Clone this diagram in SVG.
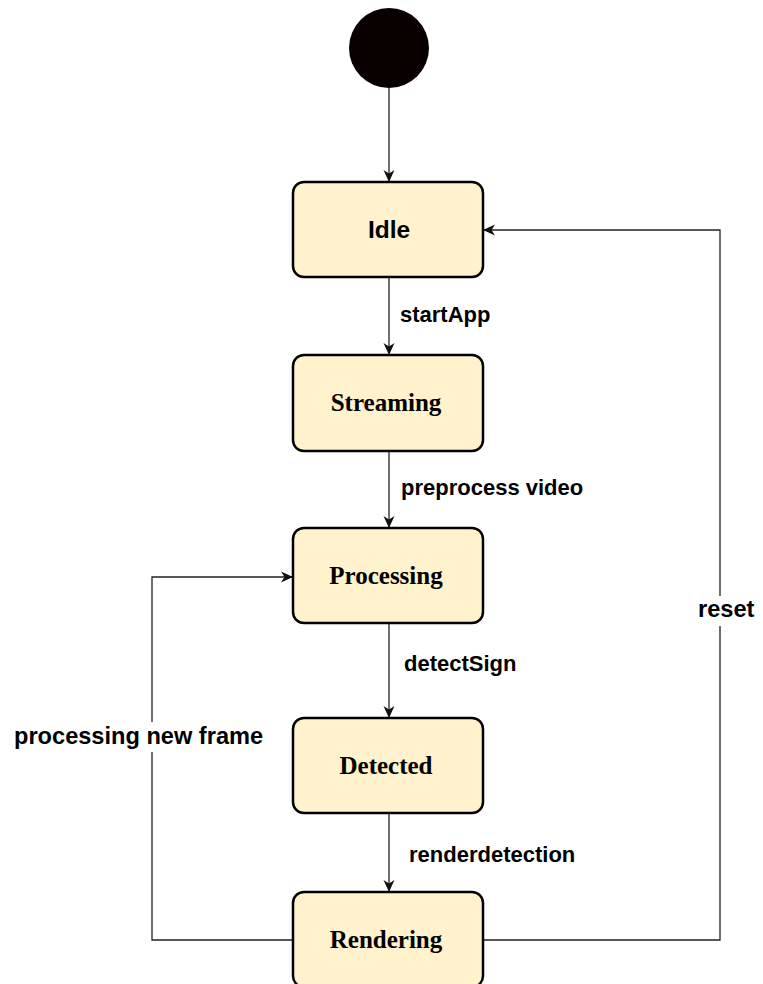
<svg xmlns="http://www.w3.org/2000/svg" width="763" height="984" viewBox="0 0 763 984">
  <style>
    .state { fill: #fff2cc; stroke: #000; stroke-width: 2.5; }
    .name-serif { font-family: "Liberation Serif", "Times New Roman", serif; font-weight: bold; font-size: 25px; fill: #000; text-anchor: middle; }
    .name-sans { font-family: "Liberation Sans", Arial, sans-serif; font-weight: bold; font-size: 24.5px; fill: #000; text-anchor: middle; }
    .edge { fill: none; stroke: #222; stroke-width: 1.3; }
    .label { font-family: "Liberation Sans", Arial, sans-serif; font-weight: bold; font-size: 22px; fill: #000; }
    .label-lg { font-family: "Liberation Sans", Arial, sans-serif; font-weight: bold; font-size: 23.6px; fill: #000; }
  </style>
  <defs>
    <marker id="arrow" viewBox="0 0 12 12" refX="12" refY="6" markerWidth="12" markerHeight="12" markerUnits="userSpaceOnUse" orient="auto">
      <path d="M0,0.5 L12,6 L0,11.5 L3.5,6 z" fill="#111"/>
    </marker>
  </defs>

  <rect width="763" height="984" fill="#fff"/>

  <!-- connectors -->
  <g id="connectors">
    <path class="edge" d="M389,88 L389,182" marker-end="url(#arrow)"/>
    <path class="edge" d="M389,277 L389,355" marker-end="url(#arrow)"/>
    <path class="edge" d="M389,451 L389,528" marker-end="url(#arrow)"/>
    <path class="edge" d="M389,623 L389,718" marker-end="url(#arrow)"/>
    <path class="edge" d="M389,813 L389,892" marker-end="url(#arrow)"/>
    <!-- loop back to Processing -->
    <path class="edge" d="M293,940 L152,940 L152,577 L293,577" marker-end="url(#arrow)"/>
    <!-- reset back to Idle -->
    <path class="edge" d="M483,940 L720,940 L720,230 L483,230" marker-end="url(#arrow)"/>

    <!-- transition labels -->
    <text class="label" x="400" y="322">startApp</text>
    <text class="label" x="401" y="495">preprocess video</text>
    <text class="label" x="404" y="671">detectSign</text>
    <text class="label" x="409" y="862">renderdetection</text>
    <rect x="12" y="722" width="253" height="30" fill="#fff"/>
    <text class="label-lg" x="14" y="744">processing new frame</text>
    <rect x="695" y="596" width="64" height="30" fill="#fff"/>
    <text class="label-lg" x="698" y="617">reset</text>
  </g>

  <!-- initial state -->
  <g id="start">
    <circle cx="389" cy="48" r="40" fill="#080000"/>
  </g>

  <g id="idle">
    <rect class="state" x="293" y="182" width="190" height="95" rx="11"/>
    <text class="name-sans" x="389" y="238">Idle</text>
  </g>

  <g id="streaming">
    <rect class="state" x="293" y="355" width="190" height="96" rx="11"/>
    <text class="name-serif" x="386" y="411">Streaming</text>
  </g>

  <g id="processing">
    <rect class="state" x="293" y="528" width="190" height="95" rx="11"/>
    <text class="name-serif" x="386" y="584">Processing</text>
  </g>

  <g id="detected">
    <rect class="state" x="293" y="718" width="190" height="95" rx="11"/>
    <text class="name-serif" x="386" y="774">Detected</text>
  </g>

  <g id="rendering">
    <rect class="state" x="293" y="892" width="190" height="95" rx="11"/>
    <text class="name-serif" x="386" y="948">Rendering</text>
  </g>
</svg>
